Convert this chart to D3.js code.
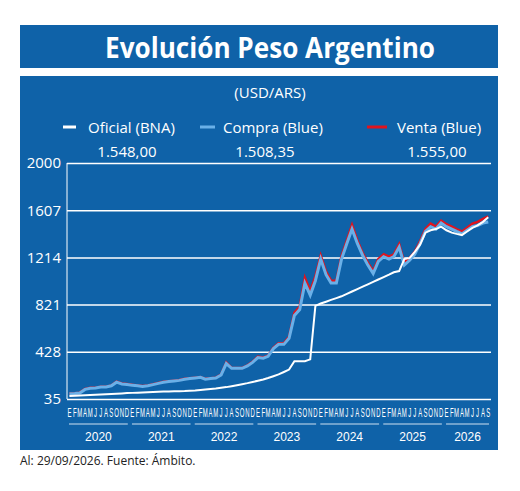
<!DOCTYPE html>
<html><head><meta charset="utf-8">
<script src="https://cdn.jsdelivr.net/npm/d3@7"></script>
<style>body{margin:0;background:#fff;font-family:"Open Sans",sans-serif}</style>
</head><body><svg width="520" height="491"></svg>
<script>
const months = d3.range(81).map(i => new Date(2020, i, 15));
const compra = [78,80,85,115,125,126,135,135,145,175,160,155,
  150,145,140,145,155,165,175,180,185,190,200,205,
  210,215,200,205,210,235,330,290,290,290,310,340,
  380,375,390,455,490,490,540,730,780,1000,900,1020,
  1200,1070,1000,1000,1200,1330,1450,1330,1230,1150,1080,1180,
  1220,1200,1220,1300,1150,1190,1240,1330,1430,1470,1450,1500,
  1470,1450,1430,1410,1440,1470,1480,1500,1508];
const venta = [81,83,88,118,128,129,138,138,148,180,164,159,
  153,148,143,148,158,168,178,183,188,193,203,208,
  213,218,203,208,213,239,340,295,294,294,315,346,
  388,381,396,463,500,500,552,755,805,1045,935,1055,
  1230,1095,1020,1020,1225,1355,1485,1355,1250,1170,1100,1200,
  1240,1220,1240,1325,1170,1210,1260,1350,1450,1495,1470,1520,
  1490,1470,1450,1430,1460,1495,1510,1535,1555];
const oficial = [60,62,64,66,68,70,72,74,76,78,81,84,
  86,88,90,92,94,96,97,98,99,100,101,103,
  106,110,114,118,122,128,134,142,150,158,167,177,
  187,198,210,225,240,260,280,350,350,350,365,810,
  830,845,860,875,890,910,930,950,970,990,1010,1030,
  1050,1070,1090,1100,1200,1210,1260,1320,1420,1440,1450,1470,
  1440,1420,1410,1400,1430,1460,1480,1510,1548];
const yTicks = [35,428,821,1214,1607,2000];
const years = ['2020','2021','2022','2023','2024','2025','2026'];
const monthLetters = ['E','F','M','A','M','J','J','A','S','O','N','D'];

const svg = d3.select('svg');
const blue = '#0f62a8';
svg.append('rect').attr('x',20).attr('y',25).attr('width',478).attr('height',43).attr('fill',blue);
svg.append('rect').attr('x',20).attr('y',76).attr('width',478).attr('height',374).attr('fill',blue);
svg.append('text').attr('x',270).attr('y',58).attr('text-anchor','middle').attr('fill','#fff')
  .attr('font-size',28).attr('font-weight','bold').attr('textLength',330).attr('lengthAdjust','spacingAndGlyphs')
  .text('Evolución Peso Argentino');
svg.append('text').attr('x',270).attr('y',98).attr('text-anchor','middle').attr('fill','#fff')
  .attr('font-size',15).text('(USD/ARS)');

const legend = [
  {name:'Oficial (BNA)', val:'1.548,00', col:'#fff', lx:63, lw:13, tx:88, vx:127},
  {name:'Compra (Blue)', val:'1.508,35', col:'#6ab0e8', lx:200, lw:15, tx:223, vx:265},
  {name:'Venta (Blue)', val:'1.555,00', col:'#e0141e', lx:367, lw:20, tx:397, vx:437}];
legend.forEach(l => {
  svg.append('line').attr('x1',l.lx).attr('x2',l.lx+l.lw).attr('y1',127).attr('y2',127)
    .attr('stroke',l.col).attr('stroke-width',3);
  svg.append('text').attr('x',l.tx).attr('y',133).attr('fill','#fff').attr('font-size',15).text(l.name);
  svg.append('text').attr('x',l.vx).attr('y',157).attr('fill','#fff').attr('font-size',15)
    .attr('text-anchor','middle').text(l.val);
});

const x = d3.scaleTime().domain([new Date(2020,0,1), new Date(2026,9,1)]).range([67,491]);
const y = d3.scaleLinear().domain([35,2000]).range([399,163]);

const gy = svg.append('g').attr('transform','translate(67,0)')
  .call(d3.axisLeft(y).tickValues(yTicks).tickFormat(d3.format('d')).tickSize(-424).tickPadding(6));
gy.select('.domain').remove();
gy.selectAll('line').attr('stroke','#fff').attr('stroke-width',1.5);
gy.selectAll('text').attr('fill','#fff').attr('font-size',15).attr('font-family','"Open Sans",sans-serif');
svg.append('line').attr('x1',67).attr('x2',67).attr('y1',163).attr('y2',399).attr('stroke','#fff');

const line = d => d3.line().x((v,i) => x(months[i])).y(v => y(v))(d);
svg.append('path').attr('d',line(venta)).attr('fill','none').attr('stroke','#e0141e').attr('stroke-width',2.5);
svg.append('path').attr('d',line(compra)).attr('fill','none').attr('stroke','#6ab0e8').attr('stroke-width',3);
svg.append('path').attr('d',line(oficial))
  .attr('fill','none').attr('stroke','#fff').attr('stroke-width',2);

svg.append('g').selectAll('text').data(months).join('text')
  .attr('x',d => x(d)).attr('text-anchor','middle').attr('fill','#fff')
  .attr('font-size',10).attr('font-family','"Liberation Sans Narrow",sans-serif')
  .attr('transform',d => `translate(${x(d)},0) scale(0.6,1.3) translate(${-x(d)},0)`)
  .attr('y',321).text(d => monthLetters[d.getMonth()]);

years.forEach(yr => {
  const a = x(new Date(+yr,0,1)) + 2, b = Math.min(x(new Date(+yr,11,31)), 491) - 2;
  svg.append('line').attr('x1',a).attr('x2',b).attr('y1',424).attr('y2',424).attr('stroke','#cfe0f0');
  svg.append('text').attr('x',(a+b)/2).attr('y',441).attr('text-anchor','middle').attr('fill','#fff')
    .attr('font-size',12).attr('font-family','"Liberation Sans Narrow",sans-serif').text(yr);
});
svg.append('text').attr('x',20).attr('y',465).attr('font-size',12).attr('fill','#222')
  .text('Al: 29/09/2026. Fuente: Ámbito.');
</script></body></html>
